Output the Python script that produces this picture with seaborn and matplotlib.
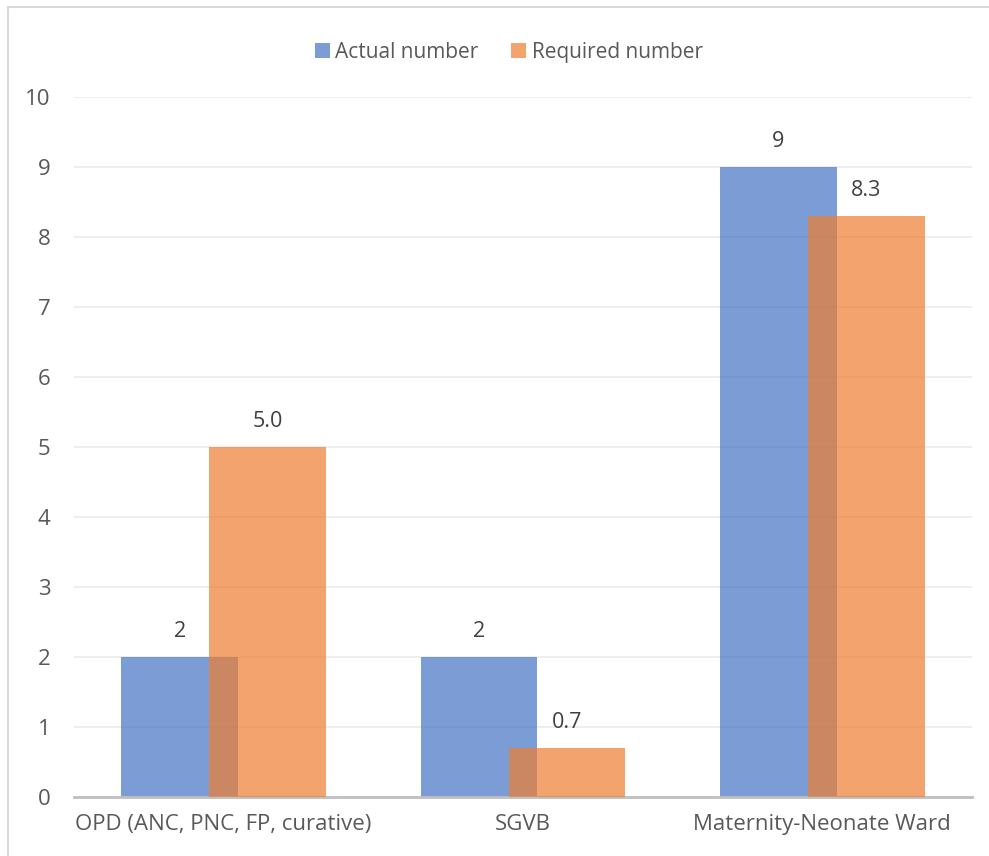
import matplotlib
matplotlib.use("Agg")
import matplotlib.pyplot as plt
import seaborn as sns
import pandas as pd
from matplotlib.patches import Rectangle

categories = ["OPD (ANC, PNC, FP, curative)", "SGVB", "Maternity-Neonate Ward"]
actual = [2, 2, 9]
required = [5.0, 0.7, 8.3]
actual_labels = ["2", "2", "9"]
required_labels = ["5.0", "0.7", "8.3"]
series = ["Actual number", "Required number"]
yticks = list(range(0, 11))

df = pd.DataFrame({
    "category": categories * 2,
    "value": actual + required,
    "series": [series[0]] * 3 + [series[1]] * 3,
})

sns.set_theme(style="white")
plt.rcParams["font.family"] = ["Open Sans", "DejaVu Sans"]

fig = plt.figure(figsize=(9.89, 8.56), dpi=100)
ax = fig.add_axes([74 / 989, 59 / 856, 898 / 989, 700 / 856])

palette = {series[0]: "#4472C4", series[1]: "#ED7D31"}
sns.barplot(data=df, x="category", y="value", hue="series", palette=palette,
            width=0.78, ax=ax, alpha=0.7, saturation=1, legend=True,
            linewidth=0, errorbar=None)

# shift bars inward so the two series overlap
shift = 0.048
for p in ax.patches:
    if p.get_height() == 0:
        continue
    x = p.get_x()
    w = p.get_width()
    center = x + w / 2
    idx = round(center)
    if center < idx:
        p.set_x(x + shift)
    else:
        p.set_x(x - shift)
        p.set_zorder(3)

ax.set_ylim(0, 10)
ax.set_xlim(-0.5, 2.5)
ax.set_yticks(yticks)
ax.set_yticklabels([str(t) for t in yticks])
ax.yaxis.grid(True, color="#EBEBEB", linewidth=1.2)
ax.set_axisbelow(True)
for s in ["top", "right", "left"]:
    ax.spines[s].set_visible(False)
ax.spines["bottom"].set_color("#BFBFBF")
ax.spines["bottom"].set_linewidth(2)
ax.set_xlabel("")
ax.set_ylabel("")
ax.tick_params(axis="both", length=0, labelsize=16, colors="#595959")
ax.tick_params(axis="x", pad=12)
ax.tick_params(axis="y", pad=17)

# value labels
for p in ax.patches:
    h = p.get_height()
    if h == 0:
        continue
    cx = p.get_x() + p.get_width() / 2
    i = round(cx)
    txt = actual_labels[i] if cx < i else required_labels[i]
    ax.annotate(txt, (cx, h), xytext=(0, 11), textcoords="offset points",
                ha="center", va="bottom", fontsize=15.5, color="#404040")

leg = ax.legend(loc="center", bbox_to_anchor=(0.484, 1.064), ncol=2,
                frameon=False, fontsize=15, handlelength=0.72, handleheight=0.75,
                handletextpad=0.25, columnspacing=1.6, labelcolor="#595959")

fig.patches.append(Rectangle((8 / 989, -0.1), 1.2, (856 - 7) / 856 + 0.1,
                             transform=fig.transFigure, fill=False,
                             edgecolor="#D9D9D9", linewidth=1.5))

fig.savefig("out.png", dpi=100)
